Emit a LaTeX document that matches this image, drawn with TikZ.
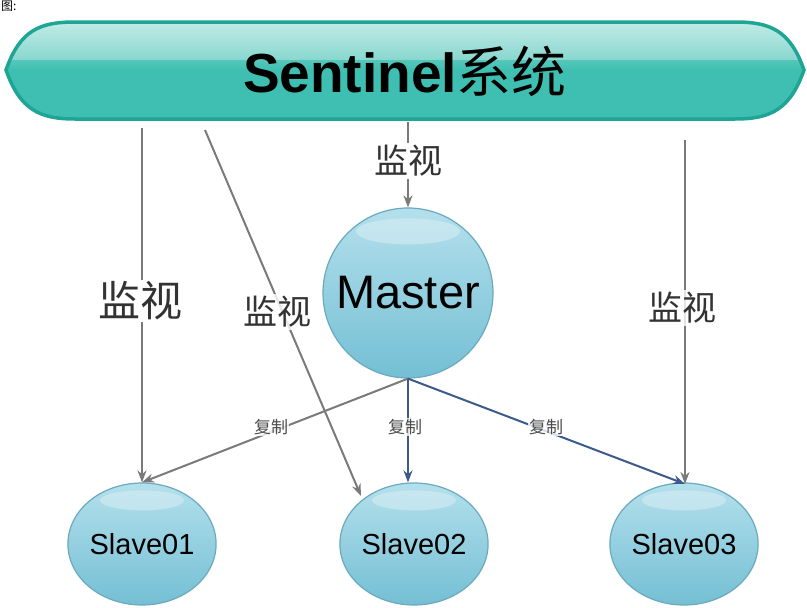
\documentclass[tikz,border=0pt]{standalone}
\usepackage{fontspec}
\setmainfont{Liberation Sans}
\newfontfamily\cjk{Noto Sans CJK SC}
\usetikzlibrary{arrows.meta,shadings,shapes.geometric}
\definecolor{tealborder}{HTML}{1FA595}
\definecolor{tealmain}{HTML}{3EBFB1}
\definecolor{teallight}{HTML}{A8E3DC}
\definecolor{ballborder}{HTML}{6AA9BE}
\definecolor{balltop}{HTML}{B4E0EC}
\definecolor{ballbot}{HTML}{74BFD4}
\definecolor{watchgray}{HTML}{7A7A7A}
\definecolor{copyblue}{HTML}{3C5A8C}
\tikzset{
  ball/.style={ellipse, draw=ballborder, line width=1.2pt, top color=balltop, bottom color=ballbot, text=black},
  watch/.style={draw=watchgray, line width=2pt, -{Stealth[length=12pt,width=9pt]}},
  copyarrow/.style={draw=copyblue, line width=2pt, -{Stealth[length=12pt,width=9pt]}},
  watchlabel/.style={fill=white, inner sep=2pt, text=black!80, font=\cjk},
  copylabel/.style={fill=white, fill opacity=0.8, text opacity=1, inner sep=1pt, text=black!70, font=\cjk\fontsize{17}{17}\selectfont},
  shine/.style={white, opacity=0.3},
}
\begin{document}
\begin{tikzpicture}[x=1pt,y=-1pt]
\useasboundingbox (0,0) rectangle (807,608);
\fill[white] (0,0) rectangle (807,608);
% caption fragment
\node[anchor=north west, inner sep=0pt, font=\cjk\fontsize{12}{12}\selectfont] (cap) at (1,1) {图:};
% banner
\def\bannerpath{(6,70) .. controls (20,30) and (40,22) .. (75,22) -- (735,22)
  .. controls (770,22) and (790,30) .. (804,70)
  .. controls (790,110) and (770,119) .. (735,119) -- (75,119)
  .. controls (40,119) and (20,110) .. (6,70) -- cycle}
\path[top color=teallight, bottom color=tealmain, middle color=tealmain] \bannerpath;
\begin{scope}
  \clip \bannerpath;
  \fill[white, opacity=0.3] (0,20) rectangle (807,60);
\end{scope}
\draw[tealborder, line width=3.5pt] \bannerpath;
\node[inner sep=0pt] (sys) at (405,71) {\fontsize{55}{55}\selectfont\bfseries Sentinel{\cjk\mdseries 系统}};
% nodes
\node[ball, circle, minimum size=170pt, inner sep=0pt] (master) at (408,293) {\fontsize{47}{47}\selectfont Master};
\node[ball, minimum width=144pt, minimum height=122pt, inner sep=0pt] (s1) at (142,544) {\fontsize{29}{29}\selectfont Slave01};
\node[ball, minimum width=142pt, minimum height=122pt, inner sep=0pt] (s2) at (414,544) {\fontsize{29}{29}\selectfont Slave02};
\node[ball, minimum width=142pt, minimum height=122pt, inner sep=0pt] (s3) at (684,544) {\fontsize{29}{29}\selectfont Slave03};
% highlights
\fill[shine] ([yshift=-24pt]master.north) ellipse [x radius=52, y radius=13];
\foreach \n in {s1,s2,s3}{
  \fill[shine] ([yshift=-18pt]\n.north) ellipse [x radius=42, y radius=10];
}
% coordinates for watch starts
\coordinate (w1) at (142,128);
\coordinate (w2) at (205,130);
\coordinate (w3) at (408,122);
\coordinate (w4) at (685,140);
\coordinate (s2tl) at (361,496);
\coordinate (s3top) at (685,484);
% watch arrows
\draw[watch] (w1) -- (s1.north);
\draw[watch] (w2) -- (s2tl);
\draw[watch] (w3) -- (master.north);
\draw[watch] (w4) -- (s3top);
% copy arrows
\draw[watch] (master.south) -- (s1.north);
\draw[copyarrow] (master.south) -- (s2.north -| master.south);
\draw[copyarrow] (master.south) -- (s3top);
% labels
\node[watchlabel, font=\cjk\fontsize{42}{42}\selectfont] (l1) at (140,301) {监视};
\node[watchlabel, fill opacity=0.8, text opacity=1, font=\cjk\fontsize{34}{34}\selectfont] (l2) at (277,312) {监视};
\node[watchlabel, font=\cjk\fontsize{34}{34}\selectfont] (l3) at (408,161) {监视};
\node[watchlabel, fill opacity=0.8, text opacity=1, font=\cjk\fontsize{34}{34}\selectfont] (l4) at (682,308) {监视};
\node[copylabel] (c1) at (271,427) {复制};
\node[copylabel] (c2) at (405,427) {复制};
\node[copylabel] (c3) at (546,427) {复制};
\end{tikzpicture}
\end{document}
